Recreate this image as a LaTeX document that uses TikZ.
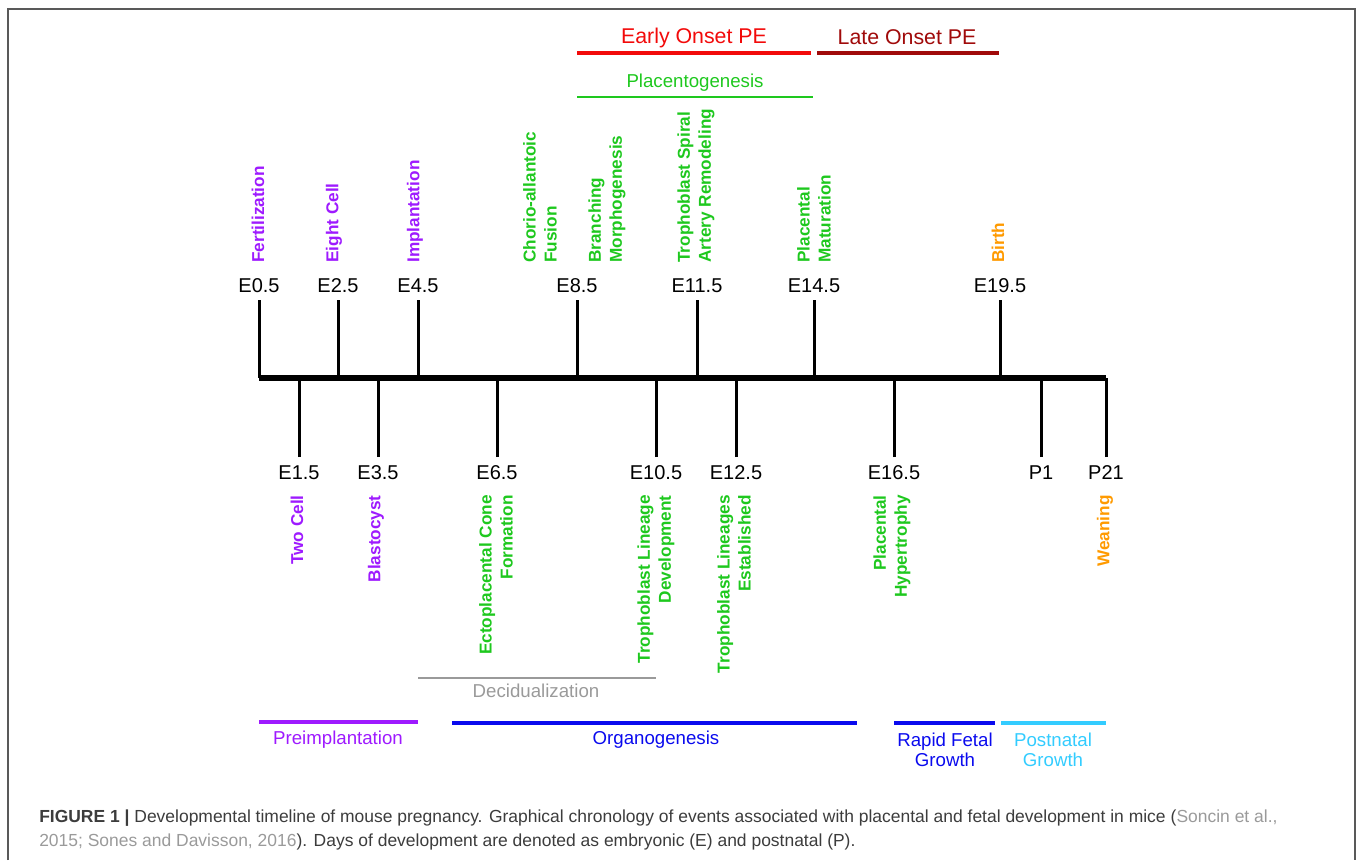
\documentclass[tikz,border=0pt]{standalone}
\usepackage{fontspec}
\setmainfont{Liberation Sans}
\usepackage{tikz}
\usetikzlibrary{positioning}

\definecolor{evpurple}{HTML}{9E1AFF}
\definecolor{evgreen}{HTML}{1EC81E}
\definecolor{evorange}{HTML}{FF9A00}
\definecolor{evred}{HTML}{F20A0A}
\definecolor{evdarkred}{HTML}{A00A0A}
\definecolor{evblue}{HTML}{0A0AEE}
\definecolor{evcyan}{HTML}{33CCFF}
\definecolor{evgray}{HTML}{9A9A9A}
\definecolor{captext}{HTML}{3C3C3C}

\tikzset{
	day/.style={font=\fontsize{15}{18}\selectfont, inner sep=0pt},
	upevent/.style={rotate=90, anchor=west, align=left, inner sep=0pt, font=\bfseries\fontsize{12.9}{15.75}\selectfont},
	downevent/.style={rotate=90, anchor=east, align=right, inner sep=0pt, font=\bfseries\fontsize{12.9}{15.75}\selectfont},
	tick/.style={line width=2.25pt},
	phase/.style={line width=3pt},
	thinphase/.style={line width=1.5pt},
	phasetext/.style={font=\fontsize{14}{15}\selectfont, inner sep=0pt, align=center},
	pelabel/.style={font=\fontsize{16}{18}\selectfont, inner sep=0pt}
}

\begin{document}
\begin{tikzpicture}[x=0.75pt, y=-0.75pt]
			\useasboundingbox (0,0) rectangle (1358,860);
			\draw [line width=1.5pt, black!65] (7.5,860) -- (7.5,9) -- (1355,9) -- (1355,860);
			
			% time axis
			\coordinate (ax) at (259,378);
			\coordinate (axend) at (1106,378);
			
			% days above the axis
			\coordinate (t05) at (259,300);
			\coordinate (t25) at (338,300);
			\coordinate (t45) at (418,300);
			\coordinate (t85) at (577,300);
			\coordinate (t115) at (697,300);
			\coordinate (t145) at (814,300);
			\coordinate (t195) at (1000,300);
			\node [day, above=5.5pt of t05] (d05) {E0.5};
			\node [day, above=5.5pt of t25] (d25) {E2.5};
			\node [day, above=5.5pt of t45] (d45) {E4.5};
			\node [day, above=5.5pt of t85] (d85) {E8.5};
			\node [day, above=5.5pt of t115] (d115) {E11.5};
			\node [day, above=5.5pt of t145] (d145) {E14.5};
			\node [day, above=5.5pt of t195] (d195) {E19.5};
			\draw [tick] (t05) -- (t05 |- ax);
			\draw [tick] (t25) -- (t25 |- ax);
			\draw [tick] (t45) -- (t45 |- ax);
			\draw [tick] (t85) -- (t85 |- ax);
			\draw [tick] (t115) -- (t115 |- ax);
			\draw [tick] (t145) -- (t145 |- ax);
			\draw [tick] (t195) -- (t195 |- ax);
			
			% days below the axis
			\coordinate (t15) at (299,457);
			\coordinate (t35) at (378,457);
			\coordinate (t65) at (497,457);
			\coordinate (t105) at (656,457);
			\coordinate (t125) at (736,457);
			\coordinate (t165) at (894,457);
			\coordinate (tp1) at (1041,457);
			\coordinate (tp21) at (1106,457);
			\node [day, below=6pt of t15] (d15) {E1.5};
			\node [day, below=6pt of t35] (d35) {E3.5};
			\node [day, below=6pt of t65] (d65) {E6.5};
			\node [day, below=6pt of t105] (d105) {E10.5};
			\node [day, below=6pt of t125] (d125) {E12.5};
			\node [day, below=6pt of t165] (d165) {E16.5};
			\node [day, below=6pt of tp1] (dp1) {P1};
			\node [day, below=6pt of tp21] (dp21) {P21};
			\draw [tick] (t15) -- (t15 |- ax);
			\draw [tick] (t35) -- (t35 |- ax);
			\draw [tick] (t65) -- (t65 |- ax);
			\draw [tick] (t105) -- (t105 |- ax);
			\draw [tick] (t125) -- (t125 |- ax);
			\draw [tick] (t165) -- (t165 |- ax);
			\draw [tick] (tp1) -- (tp1 |- ax);
			\draw [tick] (tp21) -- (tp21 |- ax);
			
			\draw [line width=4.75pt] (ax) -- (axend);
			
			% events
			\node [upevent, evpurple] (fert) at (258,263) {Fertilization};
			\node [upevent, evpurple] (eight) at (334,263) {Eight Cell};
			\node [upevent, evpurple] (impl) at (415,263) {Implantation};
			\node [upevent, evgreen] (chorio) at (540,263) {Chorio-allantoic\\Fusion};
			\node [upevent, evgreen] (branch) at (607,263) {Branching\\Morphogenesis};
			\node [upevent, evgreen] (spiral) at (696,263) {Trophoblast Spiral\\Artery Remodeling};
			\node [upevent, evgreen] (matur) at (814,263) {Placental\\Maturation};
			\node [upevent, evorange] (birth) at (998,263) {Birth};
			
			\node [downevent, evpurple] (twocell) at (297,495) {Two Cell};
			\node [downevent, evpurple] (blast) at (376,495) {Blastocyst};
			\node [downevent, evgreen] (ecto) at (496,495) {Ectoplacental Cone\\Formation};
			\node [downevent, evgreen] (lineage) at (656,495) {Trophoblast Lineage\\Development};
			\node [downevent, evgreen] (lineages) at (734,495) {Trophoblast Lineages\\Established};
			\node [downevent, evgreen] (hyper) at (892,495) {Placental\\Hypertrophy};
			\node [downevent, evorange] (wean) at (1105,495) {Weaning};
			
			% pre-eclampsia and placentogenesis
			\draw [phase, evred] (577,52.5) -- (811,52.5);
			\node [pelabel, evred] (early) at (694,38) {Early Onset PE};
			\draw [phase, evdarkred] (817,52.5) -- (999,52.5);
			\node [pelabel, evdarkred] (late) at (907,37) {Late Onset PE};
			\draw [thinphase, evgreen] (577,97) -- (813,97);
			\node [phasetext, evgreen] (placento) at (695,83) {Placentogenesis};
			
			% periods
			\draw [thinphase, evgray] (418,678) -- (656,678);
			\node [phasetext, evgray] (decid) at (536,691) {Decidualization};
			\draw [phase, evpurple] (259,721.5) -- (418,721.5);
			\node [phasetext, evpurple] (preimp) at (338,740) {Preimplantation};
			\draw [phase, evblue] (452,723) -- (857,723);
			\node [phasetext, evblue] (organo) at (656,740) {Organogenesis};
			\draw [phase, evblue] (894,723) -- (995,723);
			\node [phasetext, evblue] (rapid) at (945,750) {Rapid Fetal\\Growth};
			\draw [phase, evcyan] (1001,723) -- (1106,723);
			\node [phasetext, evcyan] (postnatal) at (1053,750) {Postnatal\\Growth};
			
			% caption
			\node [anchor=base west, inner sep=0pt, captext, font=\fontsize{13.1}{15}\selectfont] (cap1) at (39,822) {\textbf{FIGURE 1 |} Developmental timeline of mouse pregnancy. Graphical chronology of events associated with placental and fetal development in mice ({\color{evgray}Soncin et al.,}};
			\node [anchor=base west, inner sep=0pt, captext, font=\fontsize{13.1}{15}\selectfont] (cap2) at (39,846) {{\color{evgray}2015; Sones and Davisson, 2016}). Days of development are denoted as embryonic (E) and postnatal (P).};
		\end{tikzpicture}
\end{document}
